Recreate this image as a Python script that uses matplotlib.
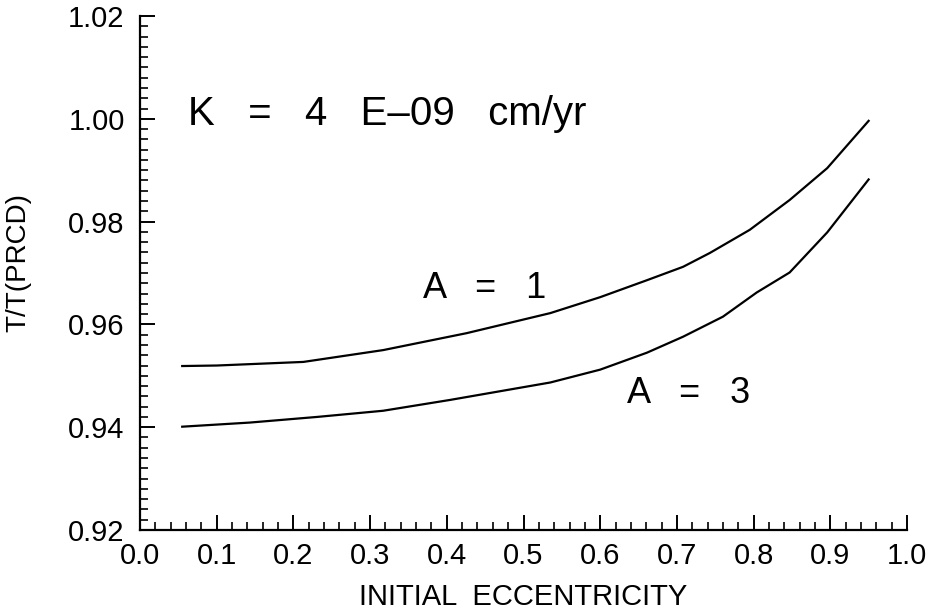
import numpy as np
import matplotlib
matplotlib.use("Agg")
from matplotlib import pyplot as plt
from matplotlib.ticker import MultipleLocator

plt.rcParams['font.family'] = ['Liberation Sans', 'DejaVu Sans']

# curves
ecc_a1 = [0.055, 0.10, 0.213, 0.317, 0.426, 0.535, 0.60, 0.661, 0.708, 0.743, 0.795, 0.847, 0.896, 0.95]
ratio_a1 = [0.9519, 0.9520, 0.9527, 0.9550, 0.9583, 0.9622, 0.9653, 0.9686, 0.9712, 0.9739, 0.9784, 0.9842, 0.9904, 0.9996]

ecc_a3 = [0.055, 0.143, 0.231, 0.317, 0.404, 0.535, 0.60, 0.661, 0.708, 0.760, 0.804, 0.847, 0.896, 0.95]
ratio_a3 = [0.9401, 0.9409, 0.9420, 0.9432, 0.9453, 0.9487, 0.9512, 0.9545, 0.9576, 0.9615, 0.9662, 0.9701, 0.9779, 0.9882]

xticks = np.arange(0.0, 1.01, 0.1)
yticks = np.arange(0.92, 1.021, 0.02)

fig = plt.figure(figsize=(9.31, 6.13), dpi=100)
ax = fig.add_axes([0.1504, 0.1354, 0.8238, 0.8385])

ax.plot(ecc_a1, ratio_a1, color='black', lw=1.6)
ax.plot(ecc_a3, ratio_a3, color='black', lw=1.6)

ax.set_xlim(0.0, 1.0)
ax.set_ylim(0.92, 1.02)
ax.set_xticks(xticks)
ax.set_xticklabels(["%.1f" % v for v in xticks])
ax.set_yticks(yticks)
ax.set_yticklabels(["%.2f" % v for v in yticks])
ax.xaxis.set_minor_locator(MultipleLocator(0.02))
ax.yaxis.set_minor_locator(MultipleLocator(0.002))

for side in ['top', 'right']:
    ax.spines[side].set_visible(False)
for side in ['left', 'bottom']:
    ax.spines[side].set_linewidth(1.6)

ax.tick_params(which='major', direction='in', length=11, width=1.4, labelsize=21)
ax.tick_params(axis='x', which='major', pad=9)
ax.tick_params(axis='y', which='major', pad=11)
ax.tick_params(which='minor', direction='in', length=6, width=1.2)

ax.set_xlabel("INITIAL  ECCENTRICITY", fontsize=21, labelpad=9)
ax.set_ylabel("T/T(PRCD)", fontsize=20)
ax.yaxis.set_label_coords(-0.142, 0.52)

ax.text(0.062, 0.9988, "K   =   4   E\u201309   cm/yr", fontsize=29)
ax.text(0.369, 0.9651, "A   =   1", fontsize=26)
ax.text(0.635, 0.9447, "A   =   3", fontsize=26)

fig.savefig("out.png", dpi=100)
